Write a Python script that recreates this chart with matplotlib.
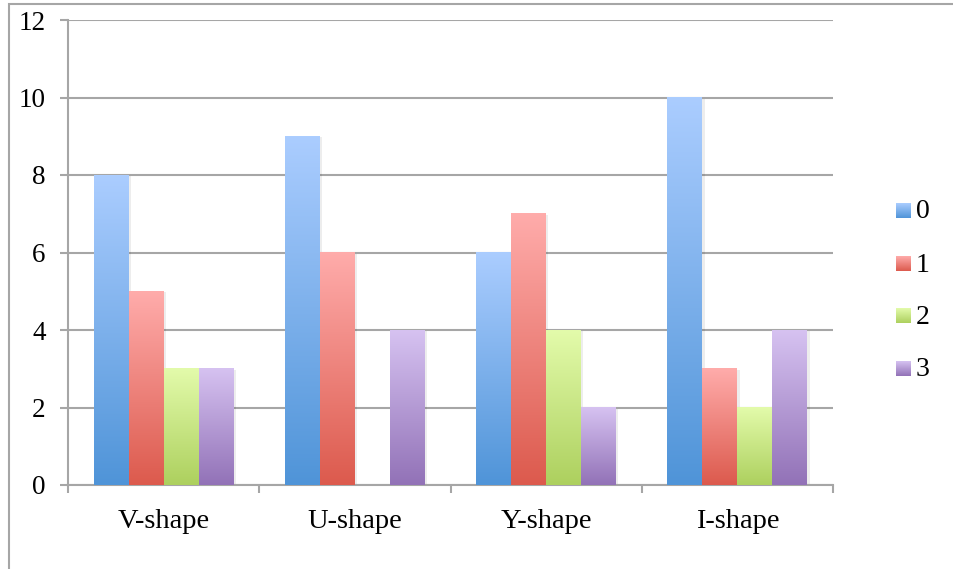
import numpy as np
import matplotlib
matplotlib.use('Agg')
import matplotlib.pyplot as plt
from matplotlib.colors import LinearSegmentedColormap
from matplotlib.patches import Rectangle

categories = ['V-shape', 'U-shape', 'Y-shape', 'I-shape']
series_names = ['0', '1', '2', '3']
values = {
    '0': [8, 9, 6, 10],
    '1': [5, 6, 7, 3],
    '2': [3, 0, 4, 2],
    '3': [3, 4, 2, 4],
}
# (top, bottom) gradient colours per series
grad_colors = {
    '0': ('#abcdff', '#4f94d8'),
    '1': ('#ffacab', '#dc5a4d'),
    '2': ('#e3fbab', '#add05e'),
    '3': ('#d6c2f1', '#9272b7'),
}

plt.rcParams['font.family'] = ['Liberation Serif', 'DejaVu Serif']
grid_gray = '#a6a6a6'

fig = plt.figure(figsize=(9.54, 5.69), dpi=100)
ax = fig.add_axes([68 / 954, 1 - 485 / 569, (833 - 68) / 954, (485 - 20) / 569])

grad = np.linspace(1, 0, 256).reshape(-1, 1)
bar_w = 0.183
n = len(series_names)
x = np.arange(len(categories))

for j, name in enumerate(series_names):
    top, bottom = grad_colors[name]
    cmap = LinearSegmentedColormap.from_list('g' + name, [bottom, top])
    offs = (j - (n - 1) / 2) * bar_w
    for i, v in enumerate(values[name]):
        if v <= 0:
            continue
        x0 = x[i] + offs - bar_w / 2
        # soft shadow to the right of each bar
        ax.add_patch(Rectangle((x0 + 0.012, 0), bar_w, v - 0.03, facecolor='#000000',
                               alpha=0.07, edgecolor='none', zorder=2))
        ax.imshow(grad, cmap=cmap, aspect='auto', extent=[x0, x0 + bar_w, 0, v],
                  interpolation='bilinear', zorder=3)

ax.set_xlim(-0.5, len(categories) - 0.5)
ax.set_ylim(0, 12)
ax.set_yticks(np.arange(0, 13, 2))
ax.set_xticks(x)
ax.set_xticklabels(categories)
ax.set_xticks(np.arange(-0.5, len(categories)), minor=True)

ax.grid(axis='y', color=grid_gray, linewidth=1.5, zorder=1)
ax.set_axisbelow(True)
for s in ['top', 'right']:
    ax.spines[s].set_visible(False)
for s in ['left', 'bottom']:
    ax.spines[s].set_color(grid_gray)
    ax.spines[s].set_linewidth(1.5)

ax.tick_params(axis='y', length=6, width=1.5, color=grid_gray, pad=10, labelsize=19.5)
ax.tick_params(axis='x', which='major', length=0, pad=17, labelsize=20.5)
ax.tick_params(axis='x', which='minor', length=6, width=1.5, color=grid_gray)

# legend with gradient swatches
leg_y = [212, 265, 317, 370]
for name, yc in zip(series_names, leg_y):
    top, bottom = grad_colors[name]
    cmap = LinearSegmentedColormap.from_list('l' + name, [bottom, top])
    sw = fig.add_axes([896 / 954, 1 - (yc + 6) / 569, 15 / 954, 15 / 569])
    sw.imshow(grad, cmap=cmap, aspect='auto', interpolation='bilinear')
    sw.axis('off')
    fig.text(916 / 954, 1 - yc / 569, name, fontsize=20, va='center', ha='left')

# outer chart frame
fig.patches.append(Rectangle((9 / 954, -0.05), 1.0, 1 - 4 / 569 + 0.05,
                             transform=fig.transFigure, fill=False,
                             edgecolor=grid_gray, linewidth=1.5))

fig.savefig('out.png', dpi=100)
